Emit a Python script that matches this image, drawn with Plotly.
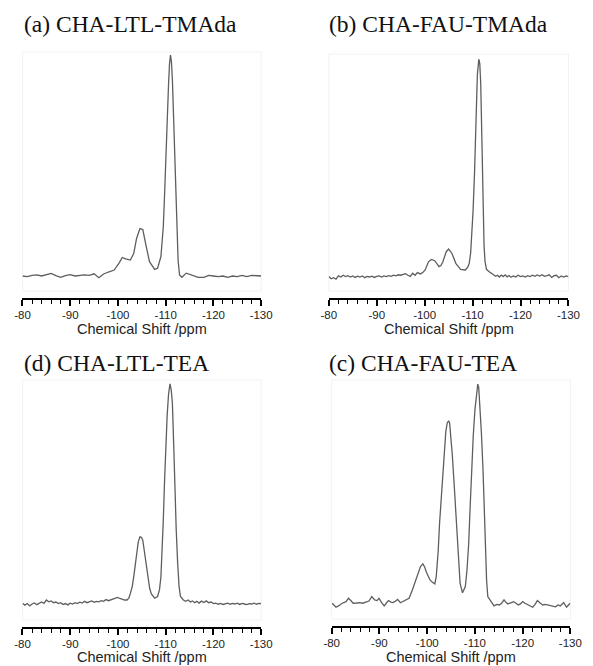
import plotly.graph_objects as go

# ---------------- data ----------------
titles = ["(a) CHA-LTL-TMAda", "(b) CHA-FAU-TMAda", "(d) CHA-LTL-TEA", "(c) CHA-FAU-TEA"]
axis_title = "Chemical Shift /ppm"
tick_vals = [-80, -90, -100, -110, -120, -130]
tick_text = ["-80", "-90", "-100", "-110", "-120", "-130"]

ppm_a = [-80, -81, -82, -83, -84, -85, -86, -87, -88, -89, -90, -91, -92, -93, -94, -95, -96, -97, -98,
         -99.2, -100.2, -100.9, -101.6, -102.6, -103.3, -103.9, -104.6, -105.2, -105.8, -106.6, -107.7,
         -108.3, -109.0, -109.5, -109.75, -110.0, -110.3, -110.6, -110.8, -111.0, -111.2, -111.4, -111.65,
         -111.9, -112.1, -112.3, -112.6, -112.9, -113.4, -114.3, -115.4, -116.8, -118, -119, -120, -121,
         -122, -123, -124, -125, -126, -127, -128, -129, -130]
int_a = [0, -0.3, 0.3, 0.5, 0, 0.6, 1.2, 0.2, -0.6, 0.2, 0.6, 0, 0.3, 0.5, 0.3, 1.0, -0.8, 0.9, 1.8,
         2.7, 5.7, 8.4, 7.8, 7.2, 10.2, 17, 21.5, 21, 14.7, 6.5, 3,
         3.5, 8.8, 22.3, 36, 54, 72, 87, 96, 100, 97, 89, 72,
         54, 35, 19.3, 7, 0.5, -0.6, 1.3, 0.5, -0.6, -0.6, 0.3, 0, -0.3,
         0, -0.6, 0, -0.3, 0.3, -0.3, 0.3, 0, 0]

ppm_b = [-80, -80.5, -81, -81.5, -82, -82.5, -83, -83.5, -84, -84.5, -85, -85.5, -86, -86.5, -87, -87.5,
         -88, -88.5, -89, -89.5, -90, -90.5, -91, -91.5, -92, -92.5, -93, -93.5, -94, -94.5, -95, -95.5,
         -96, -96.5, -97, -97.5, -98, -98.5, -99.1, -99.6, -100.1, -100.8, -101.4, -102.1, -102.6, -103.0,
         -103.4, -103.8, -104.5, -105.0, -105.7, -106.5, -107.5, -108.5, -109.0, -109.3, -109.6, -109.8,
         -110.1, -110.4, -110.6, -110.8, -111.0, -111.3, -111.5, -111.7, -111.85, -112.0, -112.2, -112.4,
         -112.6, -112.9, -113.4, -113.9, -114.4, -114.8, -115.2, -115.6, -116.0, -116.4, -116.8, -117.2,
         -117.6, -118.0, -118.5, -119.0, -119.5, -120.0, -120.5, -121.0, -121.5, -122.0, -122.5, -123.0,
         -123.5, -124.0, -124.5, -125.0, -125.5, -126.0, -126.5, -127.0, -127.5, -128.0, -128.5, -129.0,
         -129.5, -130.0]
int_b = [0.2, -0.8, -0.3, -1.0, 0.5, 0.0, 0.8, 0.2, 0.6, 0.0, 0.5, -0.2, 0.4, 0.0, 0.5, -0.3,
         0.3, 0.0, 0.4, -0.2, 0.3, 0.5, 0.0, 0.5, 0.2, 0.6, 0.3, 0.8, 0.5, 1.0, 0.8, 1.3,
         1.5, 0.8, 0.3, 1.7, 0.8, 2.0, 1.4, 2.0, 3.2, 6.9, 8.0, 7.4, 5.8, 4.7,
         5.2, 6.9, 11.5, 12.7, 10.7, 6.2, 3.5, 3.2, 4.5, 6.2, 11, 16.8,
         30, 47, 64, 80, 92, 99, 97, 88, 70, 47, 27, 13.8,
         7, 3.5, 2.5, 1.7, 1.0, 0.3, 0.8, 0.0, 0.9, 0.2, 1.0, 0.1,
         0.7, -0.1, 0.5, 0.0, 0.8, 0.2, 0.5, 0.0, 0.6, 0.2, 0.8, 0.3,
         0.9, 0.4, 1.0, 0.3, 0.6, 1.0, -0.2, 0.6, 0.8, -0.3, 0.5, 0.0,
         0.5, 0.2]

ppm_d = [-80, -80.5, -81, -81.5, -82, -82.5, -83, -83.5, -84, -84.5, -85, -85.5, -86, -86.5, -87, -87.5,
         -88, -88.5, -89, -89.5, -90, -90.5, -91, -91.5, -92, -92.5, -93, -93.5, -94, -94.5, -95, -95.5,
         -96, -96.5, -97, -97.5, -98, -98.5, -99.2, -99.9, -100.4, -100.9, -101.4, -101.9, -102.3, -102.6,
         -103.0, -103.3, -103.6, -103.9, -104.25, -104.6, -104.9, -105.2, -105.4, -105.6, -106.0, -106.3,
         -106.65, -107.0, -107.7, -108.3, -108.7, -109.0, -109.25, -109.5, -109.75, -110.0, -110.3, -110.6,
         -110.9, -111.15, -111.4, -111.65, -111.9, -112.2, -112.5, -112.8, -113.1, -113.7, -114.2, -114.7,
         -115.2, -115.6, -116.1, -116.5, -117.0, -117.5, -118.0, -118.5, -119.0, -119.5, -120.0, -120.5,
         -121.0, -121.5, -122.0, -122.5, -123.0, -123.5, -124.0, -124.5, -125.0, -125.5, -126.0, -126.5,
         -127.0, -127.5, -128.0, -128.5, -129.0, -129.5, -130.0]
int_d = [0.3, -0.5, 0.2, -0.9, 0.0, 0.5, -0.3, 0.4, 0.9, 0.3, 1.8, 1.0, 1.4, 0.6, 0.9, 0.2,
         0.6, -0.2, 0.2, -0.4, 0.4, 0.0, 0.6, 0.2, 0.8, 0.4, 1.2, 0.6, 1.0, 1.4, 0.8, 1.2,
         1.0, 1.5, 1.2, 2.0, 1.5, 1.9, 2.6, 3.0, 2.5, 2.1, 1.8, 1.8, 2.8, 4.8,
         8, 12.3, 18, 23.7, 28, 30.4, 30.2, 28.9, 26, 22.2, 16, 11,
         7, 4.6, 2.6, 3.4, 6.5, 12.3, 24, 38, 55, 71, 85, 95,
         99.6, 97, 91, 74, 53, 34, 18.6, 8, 3.4, 1.8, 1.2, 1.8,
         0.9, 1.4, 0.6, 1.2, 0.4, 1.3, 0.7, 1.4, 0.6, 0.9, 0.2, 0.4,
         -0.1, 0.3, -0.2, 0.1, 0.4, -0.1, 0.3, 0.0, 0.4, -0.2, 0.3, 0.0,
         -0.3, 0.2, 0.0, 0.4, -0.1, 0.3, 0.2]

ppm_c = [-80.1, -80.9, -81.5, -82.2, -83.0, -83.5, -84.0, -84.5, -85.2, -85.9, -86.5, -87.2, -87.8, -88.4,
         -89.0, -89.5, -89.9, -90.5, -91.0, -91.5, -91.9, -92.4, -92.8, -93.2, -93.8, -94.4, -95.2, -95.6,
         -96.2, -96.9, -97.4, -97.9, -98.6, -99.1, -99.5, -99.8, -100.2, -100.6, -101.1, -101.6, -101.9,
         -102.3, -102.6, -103.0, -103.3, -103.6, -103.9, -104.2, -104.5, -104.7, -104.9, -105.25, -105.6,
         -106.0, -106.3, -106.6, -106.9, -107.4, -108.0, -108.35, -108.7, -109.0, -109.3, -109.65, -110.0,
         -110.3, -110.6, -110.8, -111.0, -111.35, -111.7, -112.0, -112.2, -112.45, -112.7, -113.3, -114.0,
         -114.6, -115.1, -115.6, -116.1, -116.5, -116.9, -117.5, -118.1, -118.6, -119.1, -119.6, -120.0,
         -120.5, -121.1, -121.6, -122.1, -122.6, -123.1, -123.6, -124.2, -124.8, -125.5, -126.2, -126.9,
         -127.4, -127.9, -128.6, -129.2, -129.6, -130.0]
int_c = [0.8, -1.0, -0.3, 0.8, 1.5, 3.0, 2.0, 0.8, 0.9, 1.1, 0.8, 1.5, 1.8, 3.8,
         2.3, 2.0, 3.0, 1.0, -0.4, 1.0, 2.0, 1.3, 1.1, 1.5, 2.5, 1.0, 1.9, 2.0,
         3.0, 6.8, 10, 13.5, 17.3, 18.5, 17, 15, 12.8, 11.3, 10.2, 9.5, 12.8,
         24, 36.9, 50, 60.8, 70, 78, 82, 83, 82, 78, 68, 56.3,
         40, 27.8, 17, 9.7, 5.5, 8.3, 16, 27.8, 44, 60.8, 76, 87.8,
         95, 99.5, 98, 92.3, 78, 60.8, 38, 23.3, 11, 3.8, 1.9, -0.4,
         0.3, 0, 0.8, 2.3, 1.2, 0.5, 1.0, 1.5, 0.8, 0, 0.6, 1.5,
         0.8, 0, -0.5, -1.0, 0.3, 2.0, 1.0, 0, 0.3, 0, -0.3, -0.8,
         0, -0.4, 1.1, -1.0, 0, 0.8]

series = [(ppm_a, int_a), (ppm_b, int_b), (ppm_d, int_d), (ppm_c, int_c)]

# ---------------- layout geometry (pixels) ----------------
W, H = 593, 666
# x_left, x_right, axis_y, baseline_y, peak_y, top_y, title_x, title_y
geo = [
    (15, 262, 298, 276, 55, 45, 14, 24),
    (332, 580, 298, 277, 57, 45, 330, 24),
    (15, 262, 627, 604, 383, 373, 14, 363),
    (335, 582, 626, 605, 383, 373, 330, 363),
]

fig = go.Figure()
annotations = []
shapes = []
for i, ((px, iy), g) in enumerate(zip(series, geo)):
    xl, xr, ay, by, pky, ty, tx, tty = g
    n = "" if i == 0 else str(i + 1)
    scale = (by - pky) / 100.0
    ymin = -(ay - by) / scale
    ymax = (by - ty) / scale
    fig.add_trace(go.Scatter(x=px, y=iy, mode="lines",
                             line=dict(color="#5e5e5e", width=1.3),
                             xaxis="x" + n, yaxis="y" + n, showlegend=False,
                             hoverinfo="skip"))
    fig.layout["xaxis" + n] = dict(
        domain=[xl / W, xr / W], anchor="y" + n, range=[-80, -130],
        tickmode="array", tickvals=tick_vals, ticktext=tick_text,
        ticks="outside", ticklen=5.5, tickwidth=1.6, tickcolor="black",
        showline=True, linecolor="black", linewidth=2, showgrid=False, zeroline=False,
        tickfont=dict(family="Liberation Sans, Arial", size=11.5, color="#222"),
        minor=dict(dtick=2, tick0=-80, ticks="outside", ticklen=3.5, tickwidth=1.4,
                   tickcolor="black", showgrid=False),
        fixedrange=True,
    )
    fig.layout["yaxis" + n] = dict(
        domain=[1 - ay / H, 1 - ty / H], anchor="x" + n, range=[ymin, ymax],
        visible=False, showgrid=False, zeroline=False, fixedrange=True,
    )
    annotations.append(dict(text=titles[i], xref="paper", yref="paper",
                            x=tx / W, y=1 - tty / H, xanchor="left", yanchor="middle",
                            showarrow=False,
                            font=dict(family="Liberation Serif, Times New Roman", size=23.5, color="#111")))
    if i < 2:
        ax_y, ax_anchor = 1 - (ay + 30.5) / H, "middle"
    else:
        ax_y, ax_anchor = 0.0, "bottom"
    annotations.append(dict(text=axis_title, xref="paper", yref="paper",
                            x=(xl + xr) / 2 / W, y=ax_y, xanchor="center", yanchor=ax_anchor,
                            showarrow=False, borderpad=0,
                            font=dict(family="Liberation Sans, Arial", size=14.5, color="#222")))
    shapes.append(dict(type="rect", xref="paper", yref="paper",
                       x0=xl / W, x1=xr / W, y0=1 - (ay - 7) / H, y1=1 - (pky - 3) / H,
                       line=dict(color="#f2f2f2", width=1), layer="below"))

fig.update_layout(width=W, height=H, margin=dict(l=0, r=0, t=0, b=0),
                  paper_bgcolor="white", plot_bgcolor="white",
                  annotations=annotations, shapes=shapes)
fig.write_html("out.html")
